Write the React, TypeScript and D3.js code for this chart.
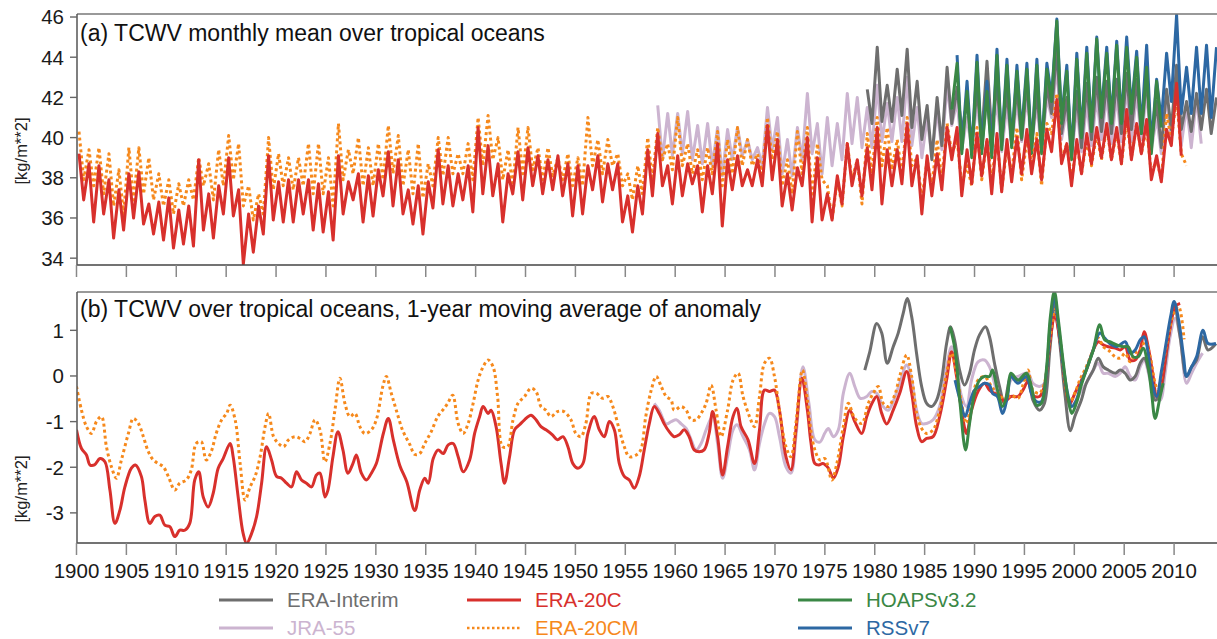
import React from "react";
import * as d3 from "d3";

// ---------- panel (a): monthly means, seasonal maxima / minima per year ----------
const era20cPeakA = [39.2,38.7,38.6,37.9,37.4,38.2,38.3,36.7,36.8,37.0,36.4,36.6,38.9,37.2,37.6,39.0,37.4,36.2,36.6,39.1,37.8,37.9,37.9,37.9,37.7,37.3,39.1,37.8,38.2,38.1,38.4,39.3,38.9,37.4,37.6,37.8,39.4,38.6,38.2,38.6,40.5,39.6,38.7,38.2,39.3,39.5,39.1,38.9,39.1,38.7,38.6,38.6,39.1,38.7,38.7,37.1,37.6,39.4,40.2,38.6,39.1,38.7,38.6,38.6,39.7,38.9,39.1,38.4,38.9,40.6,39.9,38.2,38.5,40.0,39.0,37.2,38.1,39.7,38.9,39.5,40.5,39.4,39.4,40.7,39.1,39.1,39.2,40.5,40.5,39.4,40.2,39.9,40.2,39.9,40.0,40.4,39.9,40.4,41.9,39.7,39.9,40.2,40.5,40.7,40.5,41.4,40.7,40.9,39.1,40.4,42.7];
const era20cTroughA = [36.9,35.8,36.2,35.0,35.4,36.0,35.7,35.2,34.9,34.5,34.7,34.6,35.4,35.0,36.2,36.1,33.7,34.3,35.2,35.9,35.8,35.8,36.2,35.4,35.3,34.9,36.2,36.9,35.8,36.1,37.1,36.6,36.2,35.7,35.2,36.5,36.7,36.6,36.9,36.3,37.2,37.1,35.8,37.2,36.9,37.6,37.2,37.4,37.1,36.1,36.2,37.4,36.8,37.4,35.8,35.3,36.2,37.1,37.6,36.7,37.1,37.7,36.3,37.2,35.6,37.4,37.6,37.6,37.6,37.9,36.6,36.4,37.6,35.8,35.9,35.9,36.7,37.6,37.1,37.4,36.7,37.6,37.7,37.6,36.2,37.1,37.4,38.9,37.1,37.7,38.1,37.2,37.3,37.8,38.2,38.2,37.9,39.3,38.7,37.6,38.2,38.7,39.0,38.9,38.7,38.9,39.2,37.9,37.8,39.6,39.1];

const era20cmPeakA = [40.3,39.4,39.5,39.2,38.4,39.5,39.5,39.0,38.2,37.9,37.7,37.9,39.0,38.7,39.4,40.1,39.7,37.6,37.2,40.0,39.2,39.0,39.0,39.7,39.7,39.0,40.7,39.4,40.0,39.5,39.7,40.6,40.1,39.4,39.7,38.7,40.0,40.0,39.2,39.7,41.0,41.1,40.0,39.4,40.5,40.5,39.5,39.5,39.0,39.2,39.0,41.0,39.9,39.9,39.2,38.2,38.6,40.0,40.5,39.7,41.0,39.7,39.4,39.5,40.3,39.9,40.5,39.9,39.2,41.0,40.3,38.9,40.3,40.5,39.7,37.6,37.9,39.7,38.9,40.2,41.0,40.5,39.9,41.0,39.0,38.9,39.9,40.7,39.9,38.6,40.5,39.9,40.0,39.5,40.5,39.9,40.2,40.7,42.2,39.7,39.7,39.9,40.2,40.5,40.3,40.9,40.7,40.5,38.9,41.2,42.0,38.6];
const era20cmTroughA = [37.9,37.6,37.2,36.6,36.2,36.9,37.2,36.9,36.6,36.2,36.6,36.9,37.6,36.9,37.6,37.9,36.6,35.9,36.2,37.4,37.6,37.4,37.6,37.2,37.2,36.6,37.9,38.2,37.6,37.6,37.9,38.2,37.6,37.2,37.0,37.6,38.1,38.2,38.2,37.9,38.6,38.9,37.9,37.6,38.2,38.4,37.9,38.1,37.9,37.6,37.6,38.6,38.2,38.6,37.6,36.9,37.2,37.9,38.9,38.4,38.6,38.2,37.9,38.2,37.6,38.2,38.6,38.6,38.2,38.9,37.6,37.2,38.2,36.9,37.9,35.9,36.6,37.9,36.7,38.2,38.6,38.4,38.2,38.6,36.9,37.6,37.9,39.2,37.7,37.6,37.9,37.9,37.4,38.2,37.9,38.6,37.6,40.2,38.9,37.9,38.2,38.6,38.9,38.9,38.7,39.0,39.2,38.2,37.9,39.9,39.2];

const jra55PeakA = [41.6,41.2,41.2,41.3,40.6,40.7,40.5,40.4,40.5,39.9,39.5,41.5,41.0,39.9,40.5,42.2,40.7,41.0,40.7,42.2,42.0,41.5,42.6,41.7,42.0,43.0,41.5,41.0,41.4,42.6,41.8,41.0,41.8,41.8,41.9,41.6,41.8,42.0,41.6,42.0,43.6,41.4,41.5,41.7,42.0,42.1,42.1,42.5,42.2,42.3,41.0,42.1,43.4,41.6,42.0];
const jra55TroughA = [38.9,39.1,39.2,38.9,38.7,38.6,38.1,38.9,39.1,38.9,38.6,39.4,38.2,38.1,38.9,39.2,38.2,38.6,38.9,39.7,39.5,39.5,39.8,39.8,39.8,39.6,39.0,39.0,39.4,40.6,39.4,39.4,39.6,39.6,39.3,39.6,39.8,39.7,39.4,41.0,39.9,39.0,39.3,39.6,39.9,39.7,39.8,39.8,39.9,39.4,39.2,39.9,39.6,39.5,39.7];

const eraiPeakA = [42.4,44.5,42.6,43.4,44.4,42.8,41.6,42.0,43.5,42.5,41.8,42.4,43.8,42.7,42.3,42.5,42.8,42.3,42.6,44.5,42.0,42.3,42.7,43.0,42.8,42.9,43.2,42.9,43.0,41.8,42.4,43.6,41.8,42.2,42.4,42.0];
const eraiTroughA = [40.7,40.8,40.8,41.1,40.5,39.9,38.9,39.6,40.7,40.3,39.6,40.0,40.2,39.8,39.7,39.9,39.6,39.4,41.2,40.2,39.0,39.5,39.9,40.3,40.2,40.2,40.4,40.2,39.6,39.5,40.4,40.4,40.3,40.4,40.2];

const hoapsPeakA = [null,43.7,42.3,43.75,42.3,44.1,43.6,43.3,43.4,43.6,43.4,45.8,43.3,43.9,44.2,44.9,44.2,44.6,44.5,44.0,43.5,42.8];
const hoapsTroughA = [41.4,39.2,39.0,39.2,39.0,39.4,39.5,40.0,39.2,39.2,41.8,40.7,38.9,40.0,40.3,41.0,40.7,40.7,41.2,40.2,39.2,40.5];

const rssPeakA = [44.1,42.8,44.1,42.8,44.4,43.9,43.6,43.7,43.9,43.7,45.9,43.6,44.2,44.5,45.0,44.5,44.8,45.0,44.3,44.6,42.9,44.2,46.1,43.5,44.5,44.6,44.5];
const rssTroughA = [39.4,39.2,39.4,39.2,39.6,39.7,40.2,39.4,39.4,42.0,40.9,39.1,40.2,40.5,41.2,40.9,40.9,41.4,40.4,39.6,40.8,41.8,41.2,41.2,41.2,41.0];

// ---------- panel (b): 1-year running mean of the anomaly, [year, value] ----------
const era20cB = [[1900.0,-1.18],[1900.5,-1.59],[1901.0,-1.73],[1901.35,-1.95],[1901.8,-1.95],[1902.35,-1.81],[1902.85,-1.88],[1903.35,-2.5],[1903.85,-3.23],[1904.35,-2.94],[1904.85,-2.43],[1905.5,-2.02],[1905.9,-1.95],[1906.5,-2.2],[1906.85,-2.72],[1907.35,-3.23],[1907.85,-3.08],[1908.35,-3.05],[1908.85,-3.27],[1909.35,-3.3],[1909.85,-3.52],[1910.35,-3.38],[1910.85,-3.38],[1911.35,-3.23],[1911.85,-2.28],[1912.25,-2.1],[1912.7,-2.65],[1913.2,-2.87],[1913.7,-2.57],[1914.2,-2.02],[1914.7,-1.81],[1915.4,-1.48],[1915.7,-1.77],[1916.2,-2.65],[1916.7,-3.45],[1917.05,-3.67],[1917.55,-3.45],[1918.05,-3.08],[1918.55,-2.35],[1919.05,-1.55],[1919.55,-1.84],[1920.05,-2.2],[1920.55,-2.24],[1921.05,-2.35],[1921.55,-2.43],[1922.05,-2.1],[1922.55,-2.28],[1923.05,-2.35],[1923.55,-2.43],[1924.05,-2.17],[1924.4,-2.13],[1924.9,-2.65],[1925.2,-2.5],[1925.7,-1.77],[1926.2,-1.22],[1926.7,-1.62],[1927.2,-2.13],[1927.7,-1.92],[1928.05,-1.73],[1928.55,-2.13],[1929.05,-2.28],[1929.55,-2.13],[1930.05,-1.92],[1930.75,-1.26],[1931.25,-0.93],[1931.75,-1.4],[1932.4,-1.96],[1933.1,-2.32],[1933.9,-2.95],[1934.4,-2.5],[1934.9,-2.24],[1935.25,-2.35],[1935.75,-1.81],[1936.25,-1.62],[1936.75,-1.7],[1937.25,-1.51],[1937.75,-1.48],[1938.25,-1.77],[1938.75,-2.1],[1939.4,-1.84],[1939.9,-1.26],[1940.4,-0.89],[1940.75,-0.67],[1941.25,-0.82],[1941.55,-0.75],[1942.05,-1.11],[1942.55,-1.92],[1942.9,-2.35],[1943.4,-1.77],[1943.9,-1.18],[1944.4,-1.07],[1944.9,-0.96],[1945.55,-0.86],[1946.05,-0.96],[1946.55,-1.11],[1947.05,-1.18],[1947.7,-1.29],[1948.2,-1.4],[1948.75,-1.33],[1949.25,-1.55],[1949.75,-1.92],[1950.25,-2.02],[1950.75,-1.92],[1951.25,-1.26],[1951.9,-0.89],[1952.4,-1.18],[1952.9,-1.33],[1953.4,-1.0],[1953.9,-1.18],[1954.4,-1.92],[1954.9,-2.2],[1955.4,-2.28],[1955.9,-2.46],[1956.4,-2.2],[1956.9,-1.62],[1957.4,-1.05],[1957.9,-0.67],[1958.4,-0.82],[1958.9,-1.05],[1959.4,-1.22],[1959.9,-1.33],[1960.4,-1.29],[1960.9,-1.18],[1961.4,-1.33],[1961.9,-1.62],[1962.4,-1.66],[1962.9,-1.62],[1963.4,-1.26],[1963.75,-0.78],[1964.25,-1.33],[1964.75,-2.17],[1965.25,-1.55],[1965.8,-0.89],[1966.2,-0.71],[1966.6,-1.11],[1967.3,-1.4],[1967.95,-1.92],[1968.45,-1.18],[1968.95,-0.31],[1969.45,-0.34],[1969.95,-0.31],[1970.45,-0.75],[1971.1,-1.77],[1971.6,-2.06],[1972.1,-1.18],[1972.7,-0.05],[1973.25,-0.75],[1973.6,-1.45],[1974.0,-1.92],[1974.4,-1.95],[1974.8,-1.92],[1975.35,-2.02],[1975.85,-2.24],[1976.35,-1.99],[1976.85,-1.33],[1977.5,-0.75],[1978.0,-1.0],[1978.7,-1.26],[1979.2,-0.89],[1979.7,-0.61],[1980.2,-0.45],[1980.7,-0.82],[1981.2,-1.05],[1981.85,-0.75],[1982.5,-0.38],[1983.2,0.1],[1983.7,-0.38],[1984.2,-1.11],[1984.7,-1.44],[1985.2,-1.37],[1985.85,-1.33],[1986.5,-0.89],[1987.2,-0.09],[1987.7,0.53],[1988.2,-0.01],[1988.7,-0.75],[1989.2,-1.26],[1989.7,-0.75],[1990.35,-0.34],[1991.0,-0.16],[1991.5,-0.31],[1992.0,-0.38],[1992.5,-0.42],[1993.0,-0.56],[1993.65,-0.45],[1994.35,-0.45],[1994.85,-0.31],[1995.35,-0.12],[1995.85,-0.42],[1996.5,-0.45],[1997.0,-0.23],[1997.55,0.75],[1998.05,1.34],[1998.55,0.79],[1999.05,-0.09],[1999.55,-0.61],[2000.05,-0.38],[2000.55,-0.16],[2001.2,0.13],[2001.9,0.57],[2002.4,0.75],[2002.9,0.68],[2003.4,0.64],[2004.1,0.61],[2004.6,0.57],[2005.1,0.64],[2005.6,0.35],[2006.1,0.35],[2006.6,0.57],[2007.0,0.97],[2007.4,0.64],[2007.9,-0.01],[2008.25,-0.45],[2008.75,-0.16],[2009.25,0.57],[2009.75,1.23],[2010.1,1.52],[2010.6,1.59]];

const era20cmB = [[1900,-0.23],[1900.5,-0.75],[1901,-1.11],[1901.5,-1.26],[1902,-1.0],[1902.5,-0.89],[1903,-1.55],[1903.5,-1.99],[1904,-2.24],[1904.5,-1.84],[1905.2,-1.26],[1905.7,-0.93],[1906.2,-1.04],[1906.7,-1.33],[1907.2,-1.66],[1907.7,-1.84],[1908.2,-1.92],[1908.7,-1.99],[1909.2,-2.2],[1909.85,-2.5],[1910.35,-2.35],[1911.0,-2.28],[1911.5,-2.06],[1912.0,-1.48],[1912.5,-1.44],[1913.0,-1.84],[1913.5,-1.66],[1914.0,-1.26],[1914.55,-0.96],[1915.05,-0.82],[1915.4,-0.64],[1915.9,-0.96],[1916.4,-1.92],[1916.9,-2.72],[1917.4,-2.43],[1917.9,-2.2],[1918.4,-1.77],[1918.9,-1.11],[1919.25,-0.82],[1919.75,-1.33],[1920.25,-1.48],[1920.75,-1.55],[1921.25,-1.4],[1921.9,-1.33],[1922.4,-1.37],[1922.9,-1.44],[1923.4,-1.26],[1923.9,-0.96],[1924.4,-1.18],[1924.9,-1.88],[1925.4,-1.48],[1925.9,-0.75],[1926.4,-0.05],[1926.9,-0.6],[1927.4,-0.89],[1927.9,-0.82],[1928.4,-1.11],[1928.9,-1.26],[1929.55,-1.18],[1930.05,-0.96],[1930.7,-0.23],[1931.05,-0.01],[1931.55,-0.38],[1932.05,-0.75],[1932.7,-1.2],[1933.4,-1.5],[1933.9,-1.72],[1934.4,-1.7],[1934.9,-1.48],[1935.55,-1.22],[1936.2,-0.89],[1936.7,-0.75],[1937.2,-0.6],[1937.7,-0.42],[1938.25,-1.04],[1938.75,-1.26],[1939.25,-1.04],[1939.75,-0.6],[1940.25,-0.09],[1940.75,0.2],[1941.25,0.35],[1941.75,0.2],[1942.2,-0.45],[1942.7,-1.55],[1943.2,-1.55],[1943.75,-0.96],[1944.25,-0.6],[1944.9,-0.45],[1945.55,-0.27],[1946.05,-0.34],[1946.55,-0.67],[1947.05,-0.75],[1947.55,-0.89],[1948.2,-0.78],[1948.85,-0.78],[1949.55,-0.96],[1950.05,-1.26],[1950.55,-1.33],[1951.05,-1.04],[1951.6,-0.38],[1952.1,-0.38],[1952.75,-0.49],[1953.25,-0.45],[1953.75,-0.67],[1954.4,-1.18],[1954.9,-1.55],[1955.4,-1.77],[1956.1,-1.73],[1956.55,-1.62],[1957.05,-0.89],[1957.6,-0.31],[1958.1,-0.01],[1958.6,-0.23],[1959.1,-0.45],[1959.6,-0.53],[1959.9,-0.75],[1960.6,-0.67],[1961.1,-0.75],[1961.6,-0.96],[1962.1,-0.96],[1962.6,-0.82],[1963.1,-0.6],[1963.6,-0.2],[1964.1,-0.75],[1964.6,-1.33],[1965.25,-0.75],[1965.8,-0.09],[1966.3,0.06],[1966.8,-0.45],[1967.45,-0.89],[1967.95,-1.11],[1968.45,-0.45],[1968.95,0.28],[1969.45,0.39],[1969.95,-0.01],[1970.45,-0.75],[1971.1,-1.55],[1971.6,-1.77],[1972.1,-1.04],[1972.75,0.13],[1973.25,-0.53],[1973.6,-1.2],[1974.0,-1.62],[1974.5,-1.84],[1975.0,-1.81],[1975.7,-2.28],[1976.2,-1.92],[1976.85,-1.11],[1977.35,-0.6],[1978.0,-0.93],[1978.7,-1.04],[1979.35,-0.6],[1979.85,-0.38],[1980.35,-0.23],[1980.85,-0.6],[1981.35,-0.67],[1982.0,-0.42],[1982.5,-0.01],[1983.2,0.46],[1983.7,-0.01],[1984.2,-0.82],[1984.7,-1.15],[1985.2,-1.26],[1985.85,-1.18],[1986.5,-0.75],[1987.2,0.06],[1987.7,0.5],[1988.2,0.06],[1988.7,-0.6],[1989.2,-1.04],[1989.7,-0.53],[1990.35,-0.09],[1991.0,-0.01],[1991.5,-0.16],[1992.0,-0.31],[1992.5,-0.38],[1993.0,-0.56],[1993.65,-0.42],[1994.35,-0.49],[1994.85,-0.2],[1995.35,0.13],[1995.85,-0.31],[1996.5,-0.38],[1997.0,-0.16],[1997.55,0.8],[1998.05,1.45],[1998.55,0.82],[1999.05,-0.09],[1999.55,-0.56],[2000.05,-0.38],[2000.55,-0.09],[2001.2,0.2],[2001.9,0.57],[2002.4,0.83],[2002.9,0.64],[2003.4,0.57],[2004.1,0.42],[2004.6,0.39],[2005.1,0.5],[2005.6,0.31],[2006.1,0.5],[2006.6,0.57],[2007.1,0.75],[2007.6,0.42],[2008.1,-0.16],[2008.4,-0.31],[2008.9,0.28],[2009.4,0.86],[2009.95,1.37],[2010.45,1.52],[2011.0,0.8]];

const jra55B = [[1957.9,-0.6],[1958.4,-0.75],[1959.1,-1.05],[1959.6,-1.0],[1960.1,-0.96],[1960.6,-1.05],[1961.1,-1.15],[1961.6,-1.4],[1962.1,-1.62],[1962.6,-1.48],[1963.1,-1.18],[1963.75,-0.89],[1964.25,-1.48],[1964.75,-2.24],[1965.25,-1.77],[1965.8,-1.18],[1966.2,-1.07],[1966.8,-1.33],[1967.45,-1.62],[1967.95,-2.06],[1968.45,-1.48],[1968.95,-1.05],[1969.45,-0.82],[1969.95,-0.89],[1970.45,-1.33],[1971.1,-1.99],[1971.6,-2.13],[1972.1,-1.33],[1972.8,0.2],[1973.4,-0.6],[1974.0,-1.4],[1974.5,-1.45],[1975.0,-1.25],[1975.35,-1.15],[1975.85,-1.33],[1976.35,-1.18],[1976.85,-0.38],[1977.5,0.06],[1978.0,-0.23],[1978.55,-0.49],[1979.2,-0.45],[1979.7,-0.34],[1980.2,-0.38],[1980.85,-0.67],[1981.35,-0.75],[1981.85,-0.56],[1982.5,-0.16],[1983.2,0.24],[1983.7,-0.09],[1984.2,-0.75],[1984.7,-1.04],[1985.2,-1.04],[1985.85,-0.96],[1986.5,-0.67],[1987.2,0.2],[1987.7,0.64],[1988.2,0.2],[1988.7,-0.45],[1989.2,-0.67],[1989.7,-0.09],[1990.35,0.31],[1991.0,0.35],[1991.5,0.2],[1992.0,-0.16],[1992.5,-0.53],[1993.0,-0.56],[1993.65,-0.09],[1994.35,-0.01],[1995.35,0.06],[1995.85,-0.16],[1996.5,-0.23],[1997.0,-0.16],[1997.55,0.71],[1998.05,1.37],[1998.55,0.79],[1999.05,-0.09],[1999.55,-0.67],[2000.05,-0.6],[2000.55,-0.38],[2001.2,-0.16],[2001.9,0.13],[2002.4,0.28],[2002.9,0.06],[2003.4,0.06],[2004.1,-0.01],[2004.6,0.06],[2005.1,0.2],[2005.6,-0.01],[2006.1,-0.09],[2006.6,0.2],[2007.0,0.35],[2007.6,-0.09],[2008.1,-0.45],[2008.6,-0.53],[2009.1,0.06],[2009.6,0.86],[2010.1,1.26],[2010.6,0.86],[2011.25,-0.16],[2011.75,0.06],[2012.25,0.28],[2012.85,0.5]];

const eraiB = [[1979.0,0.13],[1979.5,0.53],[1980.2,1.15],[1980.7,0.94],[1981.25,0.28],[1981.85,0.64],[1982.35,0.94],[1982.85,1.37],[1983.25,1.7],[1983.7,1.3],[1984.2,0.48],[1984.7,-0.23],[1985.2,-0.6],[1985.7,-0.67],[1986.2,-0.53],[1986.7,-0.09],[1987.2,0.71],[1987.6,1.08],[1988.0,0.79],[1988.5,0.13],[1989.0,-0.2],[1989.5,0.06],[1990.0,0.57],[1990.5,0.9],[1991.1,1.08],[1991.5,0.86],[1992.0,0.28],[1992.5,-0.23],[1993.0,-0.6],[1993.65,-0.01],[1994.35,-0.09],[1995.35,-0.09],[1995.85,-0.53],[1996.5,-0.75],[1997.0,-0.6],[1997.55,0.57],[1998.05,1.59],[1998.55,0.71],[1999.05,-0.38],[1999.6,-1.2],[2000.05,-0.89],[2000.7,-0.53],[2001.2,-0.16],[2001.9,0.13],[2002.4,0.39],[2002.9,0.2],[2003.4,0.13],[2004.1,0.06],[2004.6,0.13],[2005.1,0.06],[2005.6,-0.09],[2006.1,-0.01],[2006.6,0.28],[2007.0,0.39],[2007.6,-0.01],[2008.1,-0.53],[2008.6,-0.38],[2009.1,0.28],[2009.6,1.08],[2010.0,1.59],[2010.6,0.86],[2011.25,-0.01],[2011.75,0.2],[2012.25,0.35],[2012.85,0.86],[2013.4,0.57],[2014.2,0.71]];

const hoapsB = [[1987.55,1.08],[1988.05,0.57],[1988.55,-0.6],[1989.1,-1.62],[1989.5,-1.04],[1990.0,-0.38],[1990.5,-0.09],[1991.0,-0.01],[1991.5,-0.01],[1991.8,0.13],[1992.3,-0.31],[1992.8,-0.67],[1993.3,-0.38],[1993.65,0.06],[1994.35,-0.09],[1995.2,0.06],[1995.7,-0.23],[1996.2,-0.64],[1996.7,-0.6],[1997.2,0.13],[1997.6,1.3],[1998.0,1.85],[1998.4,1.23],[1998.9,0.28],[1999.4,-0.53],[1999.75,-0.82],[2000.2,-0.6],[2000.7,-0.2],[2001.2,0.13],[2001.9,0.57],[2002.55,1.12],[2003.05,0.79],[2003.55,0.75],[2004.25,0.68],[2004.9,0.64],[2005.4,0.64],[2005.9,0.42],[2006.4,0.42],[2006.9,0.61],[2007.4,0.2],[2007.75,-0.38],[2008.1,-0.93],[2008.6,-0.45],[2008.9,-0.16]];

const rssB = [[1988.05,-0.09],[1988.55,-0.53],[1989.05,-0.89],[1989.5,-0.6],[1990.0,-0.31],[1990.5,-0.23],[1991.0,-0.16],[1991.5,-0.2],[1991.8,-0.38],[1992.3,-0.45],[1992.8,-0.82],[1993.3,-0.45],[1993.65,-0.01],[1994.35,-0.16],[1995.2,-0.01],[1995.7,-0.38],[1996.2,-0.56],[1996.7,-0.56],[1997.2,0.06],[1997.6,1.15],[1998.0,1.74],[1998.4,1.12],[1998.9,0.2],[1999.4,-0.45],[1999.75,-0.67],[2000.2,-0.53],[2000.7,-0.16],[2001.2,0.13],[2001.9,0.57],[2002.55,0.94],[2003.05,0.83],[2003.55,0.71],[2004.25,0.64],[2005.1,0.75],[2005.6,0.5],[2006.1,0.57],[2006.6,0.79],[2007.0,0.86],[2007.4,0.5],[2007.75,-0.09],[2008.25,-0.45],[2008.75,0.13],[2009.25,0.79],[2009.65,1.3],[2010.0,1.63],[2010.45,1.23],[2010.95,0.42],[2011.25,-0.01],[2011.75,0.2],[2012.25,0.42],[2012.9,1.0],[2013.4,0.71],[2014.2,0.71]];

// ---------- axis ticks / labels ----------
const yearTicks = d3.range(1900, 2011, 5);
const ticksA = [34, 36, 38, 40, 42, 44, 46];
const ticksB = [-3, -2, -1, 0, 1];

const NAMES = ["ERA-Interim", "JRA-55", "ERA-20C", "ERA-20CM", "HOAPSv3.2", "RSSv7"];
const COLORS: Record<string, string> = {
  "ERA-Interim": "#6e6e6e",
  "JRA-55": "#ccb4d0",
  "ERA-20C": "#d8302c",
  "ERA-20CM": "#f6891c",
  "HOAPSv3.2": "#3a8745",
  "RSSv7": "#2d68a3",
};

// ---------- layout ----------
const W = 1217, H = 639;
const LEFT = 77;
const A_TOP = 14, A_BOT = 265;
const B_TOP = 292, B_BOT = 543;
const FONT = "'Liberation Sans', Arial, Helvetica, sans-serif";

const x = d3.scaleLinear().domain([1900, 2014.3]).range([76.5, 1217]);
const yA = d3.scaleLinear().domain([33.66, 46.15]).range([A_BOT, A_TOP]);
const yB = d3.scaleLinear().domain([-3.66, 1.84]).range([B_BOT, B_TOP]);

// seasonal max early in the year, minimum in the second half
function seasonal(start: number, peaks: (number | null)[], troughs: (number | null)[]) {
  const pts: [number, number][] = [];
  const n = Math.max(peaks.length, troughs.length);
  for (let i = 0; i < n; i++) {
    const yr = start + i;
    const p = peaks[i];
    const t = troughs[i];
    if (p != null) pts.push([yr + 0.25, p]);
    if (t != null) pts.push([yr + 0.72, t]);
  }
  return pts;
}

const monthly: Record<string, [number, number][]> = {
  "JRA-55": seasonal(1958, jra55PeakA, jra55TroughA),
  "ERA-Interim": seasonal(1979, eraiPeakA, eraiTroughA),
  "RSSv7": seasonal(1988, rssPeakA, rssTroughA),
  "HOAPSv3.2": seasonal(1987, hoapsPeakA, hoapsTroughA),
  "ERA-20CM": seasonal(1900, era20cmPeakA, era20cmTroughA),
  "ERA-20C": seasonal(1900, era20cPeakA, era20cTroughA),
};
const orderA = ["JRA-55", "ERA-Interim", "RSSv7", "HOAPSv3.2", "ERA-20CM", "ERA-20C"];

const anomaly: Record<string, number[][]> = {
  "JRA-55": jra55B,
  "ERA-Interim": eraiB,
  "ERA-20C": era20cB,
  "ERA-20CM": era20cmB,
  "RSSv7": rssB,
  "HOAPSv3.2": hoapsB,
};
const orderB = ["JRA-55", "ERA-Interim", "ERA-20C", "ERA-20CM", "RSSv7", "HOAPSv3.2"];

const lineA = d3.line<[number, number]>().x((d) => x(d[0])).y((d) => yA(d[1])).curve(d3.curveLinear);
const lineB = d3
  .line<number[]>()
  .x((d) => x(d[0]))
  .y((d) => yB(d[1]))
  .curve(d3.curveCatmullRom.alpha(0.5));

function strokeProps(name: string) {
  const dashed = name === "ERA-20CM";
  return {
    fill: "none",
    stroke: COLORS[name],
    strokeWidth: 3,
    strokeLinejoin: "round" as const,
    strokeDasharray: dashed ? "3 3" : undefined,
  };
}

function Frame({ top, bot, yScale, ticks }: { top: number; bot: number; yScale: d3.ScaleLinear<number, number>; ticks: number[] }) {
  return (
    <g>
      <line x1={LEFT} x2={W + 2} y1={top} y2={top} stroke="#777" strokeWidth={1.5} />
      <line x1={LEFT} x2={W + 2} y1={bot} y2={bot} stroke="#444" strokeWidth={1.6} />
      <line x1={LEFT} x2={LEFT} y1={top} y2={bot} stroke="#555" strokeWidth={1.5} />
      {ticks.map((t) => (
        <g key={t}>
          <line x1={LEFT - 7} x2={LEFT} y1={yScale(t)} y2={yScale(t)} stroke="#666" strokeWidth={1.4} />
          <text x={64} y={yScale(t)} dy="0.36em" textAnchor="end" fontSize={20.5} fill="#1a1a1a" fontFamily={FONT}>
            {t}
          </text>
        </g>
      ))}
      {yearTicks.map((yr) => (
        <line key={yr} x1={x(yr)} x2={x(yr)} y1={bot} y2={bot + 12} stroke="#888" strokeWidth={1.5} />
      ))}
    </g>
  );
}

export default function App() {
  const legendCols = [219, 467, 798];
  const legendRows = [600, 628];
  const legendItems = [
    ["ERA-Interim", "JRA-55"],
    ["ERA-20C", "ERA-20CM"],
    ["HOAPSv3.2", "RSSv7"],
  ];

  return (
    <svg
      width={W}
      height={H}
      viewBox={`0 0 ${W} ${H}`}
      style={{ position: "absolute", left: 0, top: 0, background: "#fff" }}
    >
      <defs>
        <clipPath id="clipA">
          <rect x={LEFT} y={A_TOP} width={W - LEFT + 2} height={A_BOT - A_TOP} />
        </clipPath>
        <clipPath id="clipB">
          <rect x={LEFT} y={B_TOP} width={W - LEFT + 2} height={B_BOT - B_TOP} />
        </clipPath>
      </defs>
      <rect x={0} y={0} width={W} height={H} fill="#fff" />

      {/* panel (a) */}
      <g clipPath="url(#clipA)">
        {orderA.map((name) => (
          <path key={name} d={lineA(monthly[name]) || ""} {...strokeProps(name)} />
        ))}
      </g>
      <Frame top={A_TOP} bot={A_BOT} yScale={yA} ticks={ticksA} />
      <text x={80} y={40.7} fontSize={23} fill="#111" fontFamily={FONT}>
        (a) TCWV monthly mean over tropical oceans
      </text>
      <text
        transform={`translate(21,151) rotate(-90)`}
        textAnchor="middle"
        dy="0.35em"
        fontSize={16.5}
        fill="#222"
        fontFamily={FONT}
      >
        [kg/m**2]
      </text>

      {/* panel (b) */}
      <g clipPath="url(#clipB)">
        {orderB.map((name) => (
          <path key={name} d={lineB(anomaly[name]) || ""} {...strokeProps(name)} />
        ))}
      </g>
      <Frame top={B_TOP} bot={B_BOT} yScale={yB} ticks={ticksB} />
      <text x={80} y={316.7} fontSize={23} fill="#111" fontFamily={FONT}>
        (b) TCWV over tropical oceans, 1-year moving average of anomaly
      </text>
      <text
        transform={`translate(21,489) rotate(-90)`}
        textAnchor="middle"
        dy="0.35em"
        fontSize={16.5}
        fill="#222"
        fontFamily={FONT}
      >
        [kg/m**2]
      </text>

      {/* year labels */}
      {yearTicks.map((yr) => (
        <text key={yr} x={x(yr)} y={578} textAnchor="middle" fontSize={20.5} fill="#1a1a1a" fontFamily={FONT}>
          {yr}
        </text>
      ))}

      {/* legend */}
      {legendItems.map((col, ci) =>
        col.map((name, ri) => {
          const lx = legendCols[ci];
          const ly = legendRows[ri];
          const dashed = name === "ERA-20CM";
          return (
            <g key={name}>
              <line
                x1={lx}
                x2={lx + 54}
                y1={ly}
                y2={ly}
                stroke={COLORS[name]}
                strokeWidth={dashed ? 2.5 : 3}
                strokeDasharray={dashed ? "2.5 2.5" : undefined}
              />
              <text x={lx + 68} y={ly} dy="0.36em" fontSize={20.5} fill={COLORS[name]} fontFamily={FONT}>
                {name}
              </text>
            </g>
          );
        })
      )}
    </svg>
  );
}
